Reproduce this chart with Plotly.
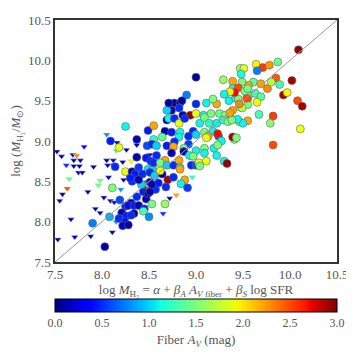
import plotly.graph_objects as go

# ---- data: detections (circles) ----
circ_x = [8.11, 8.19, 8.08, 7.90, 8.03, 8.32, 8.25, 8.21, 8.26, 8.24, 8.22, 8.31, 8.28, 8.34, 8.39, 8.45, 8.44, 8.47, 8.37, 8.44,
          8.49, 8.53, 8.67, 8.50, 8.47, 8.50, 8.42, 8.51, 8.34, 8.18, 8.28, 8.31, 8.88, 8.84, 8.91, 8.68, 8.70, 8.57, 8.60, 8.53,
          8.51, 8.25, 8.09, 8.18, 8.14, 8.37, 8.49, 8.55, 8.48, 8.37, 8.47, 8.52, 8.25, 8.32, 8.39, 8.49, 8.54, 8.35, 8.43, 8.30,
          8.39, 8.55, 8.77, 8.83, 9.00, 9.11, 9.22, 8.74, 8.69, 8.86, 8.94, 9.00, 9.08, 9.16, 9.25, 9.31, 9.39, 9.47, 8.69, 8.71,
          8.77, 8.82, 8.88, 9.04, 9.09, 9.14, 9.22, 9.37, 9.46, 9.29, 9.34, 8.67, 8.74, 8.83, 8.97, 9.09, 9.18, 9.13, 8.64, 8.82,
          8.92, 9.00, 9.11, 9.24, 9.23, 9.27, 9.41, 9.39, 8.53, 8.58, 8.69, 8.77, 8.92, 8.76, 8.87, 9.00, 9.09, 9.19, 9.23, 8.58,
          8.67, 8.74, 8.87, 8.93, 8.97, 9.09, 9.11, 9.22, 9.30, 9.33, 8.55, 8.62, 8.69, 8.76, 8.82, 8.83, 8.95, 9.00, 9.03, 9.04,
          8.51, 8.56, 8.64, 8.62, 8.83, 8.76, 9.00, 8.90, 8.85, 9.18, 9.35, 9.42, 9.45, 10.09, 9.64, 9.71, 9.78, 9.87, 9.65, 9.47,
          9.51, 9.48, 9.29, 9.39, 9.49, 9.61, 9.69, 9.85, 10.02, 9.76, 9.89, 9.39, 9.45, 9.41, 9.36, 9.30, 9.54, 9.56, 9.63, 9.69,
          9.65, 9.55, 9.55, 9.49, 9.46, 9.93, 9.97, 10.08, 10.13, 9.67, 9.82, 9.79, 10.11, 9.82, 9.55, 9.50, 9.44, 9.38, 9.36, 9.80,
          9.56, 9.54, 9.52, 9.55, 9.43, 8.71, 8.82]
circ_y = [8.42, 8.27, 8.06, 7.98, 7.69, 8.50, 8.19, 8.11, 8.07, 8.00, 7.95, 8.23, 8.20, 8.20, 8.20, 8.16, 8.13, 8.28, 8.31, 8.37,
          8.35, 8.22, 8.22, 8.06, 8.46, 8.47, 8.46, 8.49, 8.10, 8.04, 7.96, 8.08, 8.52, 8.47, 8.42, 8.43, 8.52, 8.40, 8.48, 8.46,
          8.37, 9.18, 9.00, 8.92, 8.68, 9.02, 9.13, 9.19, 8.94, 8.80, 8.79, 8.75, 8.62, 8.62, 8.67, 8.65, 8.65, 8.59, 8.59, 8.54,
          8.52, 9.02, 9.47, 9.47, 9.46, 9.47, 9.46, 9.38, 9.38, 9.32, 9.32, 9.34, 9.32, 9.34, 9.34, 9.32, 9.38, 9.42, 9.26, 9.28,
          9.28, 9.22, 9.28, 9.22, 9.29, 9.22, 9.22, 9.28, 9.24, 9.26, 9.24, 9.12, 9.11, 9.11, 9.12, 9.11, 9.12, 9.06, 9.05, 9.05,
          9.06, 9.08, 9.04, 9.06, 9.09, 9.00, 9.02, 9.05, 8.96, 8.94, 8.94, 8.99, 8.96, 8.93, 8.91, 8.88, 8.91, 8.91, 8.95, 8.82,
          8.76, 8.85, 8.87, 8.82, 8.81, 8.85, 8.75, 8.82, 8.75, 8.72, 8.73, 8.73, 8.70, 8.70, 8.76, 8.67, 8.70, 8.70, 8.73, 8.69,
          8.61, 8.57, 8.59, 8.63, 8.65, 8.55, 9.79, 9.57, 9.50, 9.52, 9.50, 9.53, 9.52, 10.13, 9.95, 9.91, 9.94, 9.98, 9.87, 9.90,
          9.90, 9.83, 9.76, 9.74, 9.73, 9.73, 9.71, 9.78, 9.75, 9.65, 9.70, 9.65, 9.66, 9.60, 9.61, 9.58, 9.61, 9.56, 9.59, 9.55,
          9.48, 9.52, 9.45, 9.41, 9.46, 9.57, 9.60, 9.50, 9.43, 9.33, 9.31, 9.22, 9.15, 8.95, 9.25, 9.22, 9.27, 9.26, 9.35, 9.73,
          9.69, 9.53, 9.62, 9.65, 9.04, 9.47, 9.41]
circ_av = [1.5, 0.6, 0.9, 0.75, 0.1, 0.5, 0.5, 0.15, 0.45, 0.4, 0.2, 0.15, 0.4, 0.45, 0.15, 0.5, 1.3, 0.15, 0.5, 0.45,
           0.15, 1.5, 1.6, 0.8, 0.5, 1.9, 1.0, 0.2, 0.1, 0.5, 0.1, 0.5, 2.2, 1.1, 0.55, 0.5, 2.9, 0.5, 0.45, 0.15,
           0.1, 1.1, 0.45, 1.9, 0.5, 0.15, 0.45, 2.2, 0.6, 0.15, 0.45, 0.5, 1.9, 0.15, 0.55, 1.05, 1.0, 0.45, 0.5, 0.45,
           0.15, 1.2, 0.1, 0.15, 0.5, 1.1, 2.2, 0.15, 1.0, 0.1, 2.95, 1.9, 1.1, 1.5, 1.45, 1.5, 2.2, 1.9, 0.1, 1.1,
           0.5, 1.9, 0.5, 1.1, 1.5, 1.2, 1.1, 2.3, 1.5, 1.2, 1.5, 0.1, 0.45, 1.1, 0.5, 1.5, 1.1, 2.2, 1.4, 1.1,
           0.5, 1.0, 1.9, 0.6, 2.7, 1.1, 1.5, 2.9, 0.5, 1.0, 0.45, 0.5, 0.55, 2.2, 1.5, 1.1, 1.5, 1.1, 1.5, 0.5,
           2.2, 0.15, 0.15, 1.1, 1.5, 1.1, 1.9, 1.1, 1.1, 2.95, 0.5, 1.5, 1.0, 0.5, 2.2, 1.1, 0.5, 0.6, 1.9, 1.5,
           0.5, 1.0, 0.1, 1.9, 2.2, 0.5, 0.1, 0.75, 0.1, 1.5, 1.1, 1.1, 1.5, 2.95, 1.95, 2.55, 2.25, 1.45, 0.75, 1.6,
           1.85, 1.15, 1.6, 2.2, 1.5, 1.4, 2.2, 2.45, 2.9, 2.3, 1.3, 1.1, 2.5, 2.7, 1.95, 1.1, 1.15, 1.5, 1.3, 1.35,
           1.9, 2.2, 1.5, 1.7, 2.3, 2.9, 1.95, 2.5, 2.9, 1.3, 2.55, 1.55, 1.9, 2.5, 2.2, 1.1, 1.1, 1.5, 2.2, 1.7,
           2.2, 2.5, 1.5, 1.45, 1.5, 0.1, 0.5]

# ---- data: upper limits (downward triangles) ----
tri_x = [7.52, 7.57, 7.69, 7.73, 7.62, 7.70, 7.77, 7.70, 7.76, 7.81, 7.75, 7.79, 7.65, 7.91, 7.98, 7.96, 8.05, 8.15, 8.16, 8.05,
         8.12, 8.06, 8.12, 8.22, 8.26, 8.31, 8.07, 8.23, 8.37, 8.37, 7.63, 7.58, 7.55, 7.85, 8.02, 8.09, 8.13, 7.93, 7.98, 7.67,
         8.15, 8.11, 7.88, 7.71, 7.53, 8.20, 8.72, 8.65, 8.79, 8.96, 8.51]
tri_y = [8.87, 8.81, 8.83, 8.82, 8.70, 8.76, 8.76, 8.69, 8.69, 8.93, 8.61, 8.61, 8.53, 8.68, 8.51, 8.45, 9.08, 8.88, 8.98, 8.76,
         8.76, 8.70, 8.70, 8.74, 8.89, 8.75, 8.55, 8.52, 8.95, 8.52, 8.41, 8.34, 8.26, 8.37, 8.30, 8.26, 8.24, 8.16, 8.11, 8.03,
         8.00, 7.87, 7.82, 7.81, 7.78, 8.40, 8.29, 8.10, 8.33, 8.55, 8.83]
tri_av = [0.1, 0.15, 0.1, 2.3, 0.5, 0.1, 0.15, 0.1, 0.2, 0.3, 0.1, 0.1, 1.4, 0.1, 1.5, 1.4, 0.8, 1.4, 0.15, 0.1,
          0.1, 0.1, 0.2, 0.15, 0.1, 1.9, 0.1, 0.1, 0.1, 0.15, 2.5, 0.1, 0.1, 0.1, 0.1, 0.1, 0.4, 0.1, 0.1, 0.1,
          0.8, 0.1, 0.1, 0.1, 0.1, 0.8, 0.2, 0.5, 2.2, 1.2, 0.15]

one_to_one = [7.5, 10.5]
tick_vals = [7.5, 8.0, 8.5, 9.0, 9.5, 10.0, 10.5]
tick_text = ["7.5", "8.0", "8.5", "9.0", "9.5", "10.0", "10.5"]
cbar_vals = [0.0, 0.5, 1.0, 1.5, 2.0, 2.5, 3.0]
cbar_text = ["0.0", "0.5", "1.0", "1.5", "2.0", "2.5", "3.0"]

jet = [[0.0, "rgb(0,0,127)"], [0.11, "rgb(0,0,255)"], [0.125, "rgb(0,0,255)"], [0.34, "rgb(0,219,255)"],
       [0.35, "rgb(0,229,247)"], [0.375, "rgb(20,255,226)"], [0.64, "rgb(239,255,8)"], [0.65, "rgb(247,245,0)"],
       [0.66, "rgb(255,236,0)"], [0.89, "rgb(255,19,0)"], [0.91, "rgb(232,0,0)"], [1.0, "rgb(127,0,0)"]]

FONT = "Liberation Serif"
GREY = "#555555"

fig = go.Figure()
fig.add_trace(go.Scatter(
    x=tri_x, y=tri_y, mode="markers",
    marker=dict(symbol="triangle-down", size=6, color=tri_av, coloraxis="coloraxis",
                line=dict(width=0.5, color="#cccccc")),
    showlegend=False, hoverinfo="skip"))
fig.add_trace(go.Scatter(
    x=circ_x, y=circ_y, mode="markers",
    marker=dict(symbol="circle", size=8, color=circ_av, coloraxis="coloraxis",
                line=dict(width=0.6, color="#666666")),
    showlegend=False, hoverinfo="skip"))
fig.add_trace(go.Scatter(
    x=one_to_one, y=one_to_one, mode="lines",
    line=dict(color="#999999", width=1), showlegend=False, hoverinfo="skip"))

axis_common = dict(range=[7.5, 10.5], tickvals=tick_vals, ticktext=tick_text,
                   showgrid=False, zeroline=False, showline=True, mirror=True,
                   linecolor="#333333", linewidth=1.5, ticks="", ticklabeloverflow="allow",
                   tickfont=dict(family=FONT, size=13, color=GREY))

# the page body adds an 8 px margin, so the figure is 346 px and offset accordingly
fig.update_layout(
    width=346, height=346,
    margin=dict(l=44, r=17, t=5, b=90),
    paper_bgcolor="white", plot_bgcolor="white",
    font=dict(family=FONT, size=13, color=GREY),
    xaxis=dict(**axis_common,
               title=dict(text="log <i>M</i><sub>H₂</sub> = <i>α</i> + <i>β<sub>A</sub></i> <i>A</i><sub><i>V</i> fiber</sub> + <i>β<sub>S</sub></i> log SFR",
                          font=dict(family=FONT, size=13, color=GREY), standoff=2)),
    yaxis=dict(**axis_common,
               title=dict(text="log (<i>M</i><sub>H₂</sub>/<i>M</i><sub>⊙</sub>)",
                          font=dict(family=FONT, size=13, color=GREY), standoff=6)),
    coloraxis=dict(
        colorscale=jet, cmin=0, cmax=3,
        colorbar=dict(orientation="h", x=0.5, xanchor="center", y=-0.151, yanchor="top",
                      len=1, lenmode="fraction", thickness=13, thicknessmode="pixels",
                      xpad=0, ypad=0, outlinewidth=1, outlinecolor="black",
                      tickvals=cbar_vals, ticktext=cbar_text, ticks="",
                      tickfont=dict(family=FONT, size=12, color=GREY),
                      title=dict(text="Fiber <i>A<sub>V</sub></i> (mag)", side="bottom",
                                 font=dict(family=FONT, size=13, color=GREY)))),
)

fig.write_html("out.html")
